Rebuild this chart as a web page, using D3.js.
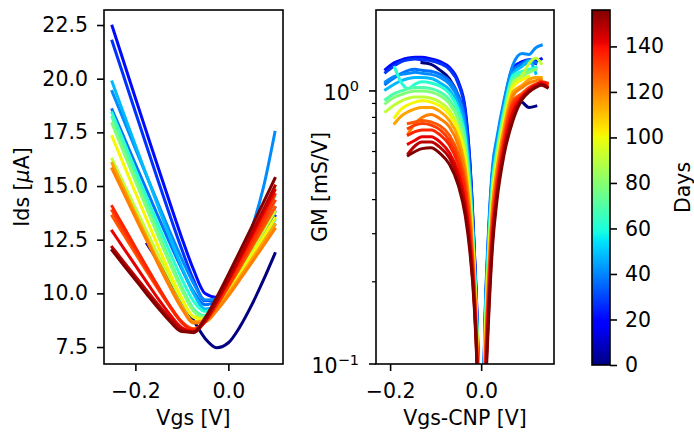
<!DOCTYPE html>
<html>
<head>
<meta charset="utf-8">
<script src="https://cdn.jsdelivr.net/npm/d3@7"></script>
<style>
  body { margin: 0; background: #fff; }
  svg { display: block; font-family: "DejaVu Sans", sans-serif; }
</style>
</head>
<body>
<svg id="chart" width="694" height="434"></svg>
<script>
// measurement days, one curve per day
const days = [0, 21, 27, 37, 41, 48, 62, 69, 79, 91, 101, 115, 121, 128, 132, 136, 142, 148, 156];

// left panel: Ids [uA] sampled on a shared Vgs grid (null = outside that sweep)
const vgs = [-0.25, -0.225, -0.2, -0.175, -0.15, -0.125, -0.1, -0.075, -0.05, -0.025, 0, 0.025, 0.05, 0.075, 0.1];
const ids = [
  [null, null, null, 12.30, 11.45, 10.55, 9.65, 8.75, 7.90, 7.47, 7.70, 8.45, 9.45, 10.60, 11.85],
  [22.45, 20.78, 19.10, 17.44, 15.79, 14.16, 12.57, 11.11, 9.99, 9.81, 10.35, 11.14, 12.00, 12.90, 13.80],
  [21.75, 20.10, 18.45, 16.81, 15.18, 13.58, 12.04, 10.63, 9.66, 9.68, 10.27, 11.04, 11.87, 12.73, 13.60],
  [18.55, 17.29, 16.02, 14.77, 13.53, 12.30, 11.13, 10.09, 9.47, 9.68, 10.38, 11.23, 12.13, 13.06, 14.00],
  [19.40, 18.07, 16.74, 15.43, 14.12, 12.83, 11.60, 10.47, 9.69, 9.75, 10.45, 11.55, 13.00, 14.90, 17.50],
  [19.85, 18.37, 16.90, 15.44, 13.99, 12.56, 11.21, 9.99, 9.27, 9.45, 10.05, 10.79, 11.57, 12.38, 13.19],
  [18.40, 17.08, 15.76, 14.44, 13.15, 11.88, 10.67, 9.64, 9.15, 9.46, 10.13, 10.91, 11.72, 12.56, 13.41],
  [18.20, 16.84, 15.48, 14.14, 12.80, 11.50, 10.28, 9.29, 8.97, 9.49, 10.37, 11.35, 12.39, 13.44, 14.50],
  [17.90, 16.56, 15.24, 13.92, 12.62, 11.35, 10.15, 9.18, 8.87, 9.44, 10.40, 11.47, 12.60, 13.75, 14.90],
  [16.25, 15.11, 13.98, 12.86, 11.75, 10.67, 9.67, 8.91, 8.81, 9.36, 10.16, 11.03, 11.95, 12.87, 13.80],
  [17.30, 16.00, 14.70, 13.41, 12.14, 10.90, 9.76, 8.89, 8.76, 9.28, 10.04, 10.87, 11.74, 12.61, 13.50],
  [16.05, 14.88, 13.72, 12.58, 11.44, 10.35, 9.36, 8.68, 8.72, 9.27, 9.99, 10.77, 11.57, 12.38, 13.20],
  [15.80, 14.67, 13.54, 12.43, 11.32, 10.26, 9.29, 8.62, 8.66, 9.20, 9.89, 10.65, 11.42, 12.21, 13.00],
  [13.60, 12.73, 11.86, 11.00, 10.16, 9.36, 8.67, 8.35, 8.70, 9.43, 10.30, 11.20, 12.13, 13.06, 14.00],
  [13.85, 12.92, 12.01, 11.10, 10.21, 9.36, 8.64, 8.30, 8.67, 9.45, 10.37, 11.33, 12.31, 13.31, 14.30],
  [14.05, 13.10, 12.15, 11.20, 10.28, 9.40, 8.65, 8.30, 8.69, 9.51, 10.47, 11.48, 12.51, 13.55, 14.60],
  [12.90, 12.10, 11.30, 10.50, 9.72, 9.00, 8.40, 8.22, 8.74, 9.62, 10.60, 11.63, 12.68, 13.74, 14.80],
  [12.15, 11.47, 10.79, 10.11, 9.45, 8.83, 8.32, 8.17, 8.71, 9.62, 10.64, 11.71, 12.80, 13.89, 15.00],
  [12.00, 11.31, 10.63, 9.95, 9.29, 8.68, 8.22, 8.19, 8.86, 9.82, 10.88, 11.98, 13.09, 14.22, 15.35]
];

// right panel: GM [mS/V] vs Vgs-CNP, hole branch and electron branch
const gmXLeft = [-0.21, -0.19, -0.175, -0.16, -0.145, -0.13, -0.11, -0.09, -0.07, -0.05, -0.035, -0.025, -0.015, -0.008, -0.003];
const gmLeft = [
  [null, null, null, null, null, 1.27, 1.25, 1.19, 1.11, 0.96, 0.78, 0.53, 0.25, 0.125, 0.05],
  [1.20, 1.27, 1.30, 1.32, 1.33, 1.33, 1.31, 1.28, 1.22, 1.08, 0.86, 0.56, 0.26, 0.13, 0.05],
  [1.17, 1.24, 1.28, 1.30, 1.31, 1.30, 1.29, 1.26, 1.20, 1.06, 0.84, 0.55, 0.26, 0.13, 0.05],
  [1.06, 1.12, 1.16, 1.19, 1.20, 1.19, 1.18, 1.15, 1.09, 0.96, 0.76, 0.50, 0.24, 0.12, 0.048],
  [1.08, 1.13, 1.15, 1.16, 1.17, 1.16, 1.15, 1.12, 1.06, 0.93, 0.74, 0.49, 0.24, 0.12, 0.047],
  [1.01, 1.06, 1.09, 1.11, 1.12, 1.12, 1.11, 1.07, 1.01, 0.885, 0.70, 0.47, 0.23, 0.118, 0.046],
  [null, 1.22, 1.07, 1.02, 1.06, 1.08, 1.07, 1.04, 0.98, 0.85, 0.67, 0.455, 0.23, 0.116, 0.045],
  [0.93, 0.98, 1.00, 1.02, 1.03, 1.03, 1.02, 0.99, 0.93, 0.81, 0.64, 0.435, 0.22, 0.113, 0.044],
  [0.90, 0.95, 0.97, 0.99, 1.00, 1.00, 0.99, 0.96, 0.90, 0.78, 0.62, 0.42, 0.217, 0.111, 0.044],
  [0.84, 0.89, 0.92, 0.94, 0.95, 0.95, 0.94, 0.91, 0.85, 0.73, 0.58, 0.40, 0.21, 0.108, 0.043],
  [null, 0.80, 0.86, 0.89, 0.91, 0.92, 0.91, 0.88, 0.82, 0.71, 0.56, 0.39, 0.206, 0.106, 0.042],
  [null, 0.76, 0.81, 0.84, 0.86, 0.87, 0.87, 0.84, 0.78, 0.67, 0.52, 0.37, 0.20, 0.103, 0.041],
  [null, null, null, 0.70, 0.76, 0.80, 0.82, 0.79, 0.74, 0.63, 0.49, 0.35, 0.19, 0.10, 0.040],
  [null, null, null, 0.76, 0.77, 0.78, 0.77, 0.745, 0.69, 0.585, 0.46, 0.33, 0.185, 0.096, 0.039],
  [null, null, null, 0.73, 0.75, 0.76, 0.75, 0.72, 0.66, 0.56, 0.44, 0.315, 0.18, 0.094, 0.038],
  [null, null, null, 0.69, 0.71, 0.72, 0.72, 0.69, 0.635, 0.535, 0.42, 0.30, 0.176, 0.092, 0.038],
  [null, null, null, 0.64, 0.66, 0.68, 0.68, 0.65, 0.595, 0.50, 0.39, 0.285, 0.17, 0.089, 0.037],
  [null, null, null, 0.59, 0.63, 0.65, 0.65, 0.62, 0.57, 0.47, 0.37, 0.27, 0.165, 0.087, 0.036],
  [null, null, null, 0.58, 0.60, 0.615, 0.62, 0.59, 0.54, 0.45, 0.35, 0.26, 0.16, 0.085, 0.035]
];
const gmXRight = [0.003, 0.008, 0.015, 0.025, 0.035, 0.05, 0.07, 0.09, 0.105, 0.12, 0.132, 0.145];
const gmRight = [
  [0.040, 0.099, 0.198, 0.39, 0.535, 0.80, 0.93, 0.91, 0.87, 0.88, null, null],
  [0.049, 0.135, 0.27, 0.51, 0.66, 0.90, 1.22, 1.28, 1.30, 1.29, 1.31, null],
  [0.048, 0.13, 0.26, 0.50, 0.65, 0.89, 1.20, 1.24, 1.27, 1.26, null, null],
  [0.048, 0.13, 0.26, 0.495, 0.645, 0.88, 1.19, 1.26, 1.30, 1.27, null, null],
  [0.05, 0.14, 0.28, 0.53, 0.68, 0.92, 1.25, 1.37, 1.36, 1.44, 1.47, null],
  [0.046, 0.125, 0.25, 0.48, 0.63, 0.86, 1.16, 1.23, 1.29, 1.16, null, null],
  [0.045, 0.12, 0.24, 0.46, 0.61, 0.84, 1.14, 1.18, 1.20, 1.22, null, null],
  [0.044, 0.116, 0.23, 0.45, 0.60, 0.82, 1.11, 1.15, 1.18, 1.20, null, null],
  [0.043, 0.111, 0.22, 0.43, 0.58, 0.80, 1.085, 1.13, 1.17, 1.20, null, null],
  [0.042, 0.107, 0.214, 0.42, 0.565, 0.78, 1.06, 1.14, 1.26, 1.32, 1.26, null],
  [0.041, 0.103, 0.206, 0.405, 0.55, 0.765, 1.035, 1.10, 1.13, null, null, null],
  [0.039, 0.095, 0.19, 0.38, 0.52, 0.73, 0.99, 1.05, 1.10, 1.12, 1.12, null],
  [0.038, 0.092, 0.184, 0.366, 0.51, 0.71, 0.96, 1.03, 1.07, 1.09, 1.10, null],
  [0.036, 0.085, 0.17, 0.34, 0.48, 0.68, 0.92, 0.98, 1.03, 1.06, 1.07, 1.06],
  [0.035, 0.082, 0.164, 0.33, 0.47, 0.665, 0.90, 0.97, 1.02, 1.05, 1.07, 1.06],
  [0.034, 0.079, 0.157, 0.32, 0.457, 0.65, 0.88, 0.96, 1.01, 1.05, 1.08, 1.07],
  [0.032, 0.073, 0.146, 0.30, 0.43, 0.62, 0.84, 0.95, 1.01, 1.05, 1.07, 1.04],
  [0.031, 0.069, 0.138, 0.285, 0.42, 0.60, 0.81, 0.94, 1.00, 1.04, 1.06, 1.03],
  [0.03, 0.065, 0.13, 0.27, 0.40, 0.58, 0.78, 0.93, 0.99, 1.03, 1.05, 1.03]
];

// tick values
const idsTicks = [7.5, 10, 12.5, 15, 17.5, 20, 22.5];
const vgsTicks = [-0.2, 0.0];
const cnpTicks = [-0.2, 0.0];
const gmMajor = [0.1, 1];
const gmMinor = [0.2, 0.3, 0.4, 0.5, 0.6, 0.7, 0.8, 0.9];
const dayTicks = [0, 20, 40, 60, 80, 100, 120, 140];

const FS = 20.5;
const svg = d3.select("#chart");

// matplotlib "jet" colormap as piecewise linear scale
const jet = d3.scaleLinear()
  .domain([0, 0.11, 0.125, 0.34, 0.35, 0.375, 0.64, 0.65, 0.66, 0.89, 0.91, 1])
  .range(["#000080", "#0000ff", "#0000ff", "#00dbff", "#00e6f7", "#15ffe2",
          "#efff08", "#f7f600", "#ffec00", "#ff1300", "#e80000", "#800000"])
  .clamp(true);
const dayMax = 156;
const color = d => jet(d / dayMax);

function styleAxis(g) {
  g.select(".domain").remove();
  g.selectAll(".tick line").attr("stroke", "#000").attr("stroke-width", 1.6);
  g.selectAll(".tick text").attr("fill", "#000").style("font-size", FS + "px")
    .style("font-family", "DejaVu Sans, sans-serif");
}

// ---------- left panel ----------
const L = { x0: 104, x1: 283, y0: 10, y1: 364 };
const xL = d3.scaleLinear().domain([-0.2675, 0.1175]).range([L.x0, L.x1]);
const yL = d3.scaleLinear().domain([6.71, 23.2]).range([L.y1, L.y0]);

svg.append("clipPath").attr("id", "clipL")
  .append("rect").attr("x", L.x0).attr("y", L.y0).attr("width", L.x1 - L.x0).attr("height", L.y1 - L.y0);

const lineL = d3.line()
  .defined(d => d != null)
  .x((d, i) => xL(vgs[i]))
  .y(d => yL(d))
  .curve(d3.curveMonotoneX);

svg.append("g").attr("clip-path", "url(#clipL)")
  .selectAll("path")
  .data(ids)
  .enter().append("path")
  .attr("d", lineL)
  .attr("fill", "none")
  .attr("stroke", (d, i) => color(days[i]))
  .attr("stroke-width", 3)
  .attr("stroke-linecap", "square");

svg.append("g").attr("transform", `translate(0,${L.y1})`)
  .call(d3.axisBottom(xL).tickValues(vgsTicks).tickFormat(d3.format(".1f")).tickSize(7).tickPadding(12))
  .call(styleAxis);
svg.append("g").attr("transform", `translate(${L.x0},0)`)
  .call(d3.axisLeft(yL).tickValues(idsTicks).tickFormat(d3.format(".1f")).tickSize(7).tickPadding(9))
  .call(styleAxis);

svg.append("rect").attr("x", L.x0).attr("y", L.y0).attr("width", L.x1 - L.x0).attr("height", L.y1 - L.y0)
  .attr("fill", "none").attr("stroke", "#000").attr("stroke-width", 1.6);

svg.append("text").attr("x", (L.x0 + L.x1) / 2).attr("y", 425)
  .attr("text-anchor", "middle").style("font-size", FS + "px").text("Vgs [V]");

const idsLabel = svg.append("text")
  .attr("transform", `translate(28.5,${(L.y0 + L.y1) / 2}) rotate(-90)`)
  .attr("text-anchor", "middle").style("font-size", FS + "px");
idsLabel.append("tspan").text("Ids [");
idsLabel.append("tspan").attr("font-style", "italic").text("\u03bc");
idsLabel.append("tspan").text("A]");

// ---------- right panel ----------
const R = { x0: 376, x1: 554, y0: 10, y1: 364 };
const xR = d3.scaleLinear().domain([-0.231, 0.160]).range([R.x0, R.x1]);
const yR = d3.scaleLog().domain([0.1, 1.979]).range([R.y1, R.y0]);

svg.append("clipPath").attr("id", "clipR")
  .append("rect").attr("x", R.x0).attr("y", R.y0).attr("width", R.x1 - R.x0).attr("height", R.y1 - R.y0);

const lineGmL = d3.line()
  .defined(d => d != null)
  .x((d, i) => xR(gmXLeft[i]))
  .y(d => yR(d))
  .curve(d3.curveMonotoneX);
const lineGmR = d3.line()
  .defined(d => d != null)
  .x((d, i) => xR(gmXRight[i]))
  .y(d => yR(d))
  .curve(d3.curveMonotoneX);

const gmG = svg.append("g").attr("clip-path", "url(#clipR)");
days.forEach((day, i) => {
  gmG.append("path").attr("d", lineGmL(gmLeft[i]))
    .attr("fill", "none").attr("stroke", color(day)).attr("stroke-width", 3)
    .attr("stroke-linecap", "square");
  gmG.append("path").attr("d", lineGmR(gmRight[i]))
    .attr("fill", "none").attr("stroke", color(day)).attr("stroke-width", 3)
    .attr("stroke-linecap", "square");
});

svg.append("g").attr("transform", `translate(0,${R.y1})`)
  .call(d3.axisBottom(xR).tickValues(cnpTicks).tickFormat(d3.format(".1f")).tickSize(7).tickPadding(12))
  .call(styleAxis);

// log axis: major and minor ticks
const yAxisR = svg.append("g");
yAxisR.selectAll("line.major").data(gmMajor).enter().append("line")
  .attr("x1", R.x0 - 7).attr("x2", R.x0)
  .attr("y1", d => yR(d)).attr("y2", d => yR(d))
  .attr("stroke", "#000").attr("stroke-width", 1.6);
yAxisR.selectAll("line.minor").data(gmMinor).enter().append("line")
  .attr("x1", R.x0 - 4).attr("x2", R.x0)
  .attr("y1", d => yR(d)).attr("y2", d => yR(d))
  .attr("stroke", "#000").attr("stroke-width", 1.2);
const gmLabels = yAxisR.selectAll("text").data(gmMajor).enter().append("text")
  .attr("x", 359).attr("y", d => yR(d) + 9)
  .attr("text-anchor", "end").style("font-size", FS + "px");
gmLabels.append("tspan").text("10");
gmLabels.append("tspan").attr("dy", -8.5).style("font-size", "14.5px")
  .text(d => d3.format("d")(Math.log10(d)).replace("-", "\u2212"));

svg.append("rect").attr("x", R.x0).attr("y", R.y0).attr("width", R.x1 - R.x0).attr("height", R.y1 - R.y0)
  .attr("fill", "none").attr("stroke", "#000").attr("stroke-width", 1.6);

svg.append("text").attr("x", (R.x0 + R.x1) / 2).attr("y", 425)
  .attr("text-anchor", "middle").style("font-size", FS + "px").text("Vgs-CNP [V]");
svg.append("text")
  .attr("transform", `translate(326.5,${(R.y0 + R.y1) / 2}) rotate(-90)`)
  .attr("text-anchor", "middle").style("font-size", FS + "px").text("GM [mS/V]");

// ---------- colorbar ----------
const C = { x0: 592, x1: 610, y0: 10, y1: 365 };
const yC = d3.scaleLinear().domain([0, dayMax]).range([C.y1, C.y0]);

const grad = svg.append("defs").append("linearGradient")
  .attr("id", "jetGrad").attr("x1", 0).attr("y1", 1).attr("x2", 0).attr("y2", 0);
grad.selectAll("stop").data(d3.range(0, 1.0001, 0.01)).enter().append("stop")
  .attr("offset", d => d).attr("stop-color", d => jet(d));

svg.append("rect").attr("x", C.x0).attr("y", C.y0).attr("width", C.x1 - C.x0).attr("height", C.y1 - C.y0)
  .attr("fill", "url(#jetGrad)").attr("stroke", "#000").attr("stroke-width", 1.6);

svg.append("g").attr("transform", `translate(${C.x1},0)`)
  .call(d3.axisRight(yC).tickValues(dayTicks).tickFormat(d3.format("d")).tickSize(7).tickPadding(8))
  .call(styleAxis);

svg.append("text")
  .attr("transform", `translate(690,${(C.y0 + C.y1) / 2}) rotate(-90)`)
  .attr("text-anchor", "middle").style("font-size", FS + "px").text("Days");
</script>
</body>
</html>
